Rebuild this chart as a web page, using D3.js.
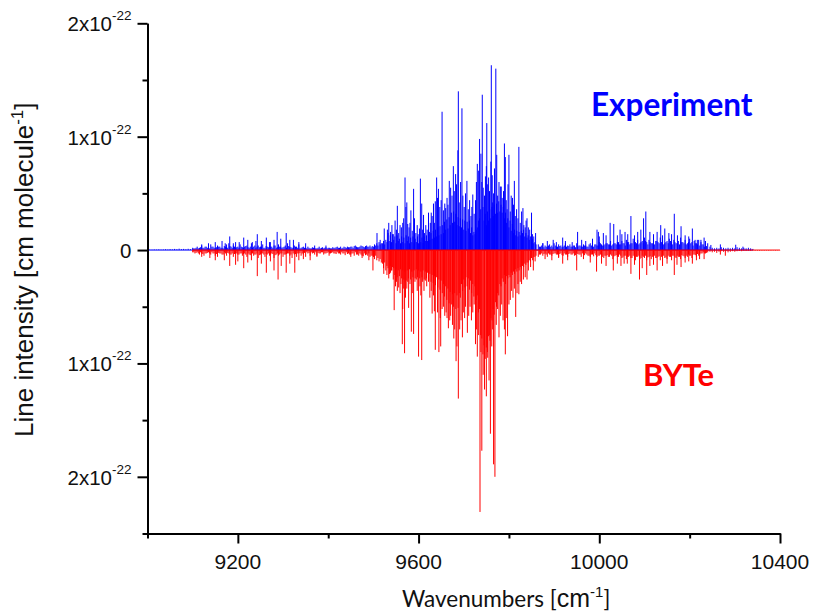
<!DOCTYPE html>
<html>
<head>
<meta charset="utf-8">
<script src="https://cdnjs.cloudflare.com/ajax/libs/d3/7.8.5/d3.min.js"></script>
<style>
  body { margin: 0; background: #fff; }
  svg { display: block; }
  text { font-family: "Liberation Sans", Arial, sans-serif; fill: #111; }
</style>
</head>
<body>
<svg width="813" height="615"></svg>
<script>
// all intensities are in units of 1e-24 cm/molecule

// tick labels
const xMajor = [9200, 9600, 10000, 10400];
const xMinor = [9000, 9400, 9800, 10200];
const yMajor = [200, 100, 0, -100, -200];
const yMinor = [150, 50, -50, -150, -250];

// experiment: dense part of the spectrum, left wing / centre / right wing
const expLeft = [0.3,0.4,0.3,0.5,0.4,0.6,0.4,0.5,0.7,0.5,0.8,0.6,1,0.7,1.2,0.8,1,0.7,1.1,0.8,
  2,1.5,3,2,4,2,3,2.5,5,3,2,4,3,2,3.5,2.5,6,3,4,2,3,5,2.5,3,4,2,6,3,2,4,
  3,5,2,3,7,3,4,2,5,3,2.5,4,6,3,2,4,3,5,2,3,2,3,1.5,2.5,2,1.5,3,2,1.5,2.5,
  2,1.5,2.5,2,3,2,1.5,3,2,2.5,3,2,4,2.5,3,3.5,2.5,4,3,2.5];
const expLeftFill = [1.5,2,1.5,2.5,2,3,2,1.5,3,2,2.5,3,2,1.5,3,2,3.5,2,3,2.5,2,3,2,3.5,2.5,3,2,4,3,2.5,
  3,2,3.5,2.5,3,2,4,2.5,3,2,3,2,3.5,2.5,2,3,2,1.5,2.5,2,1.5,2,1.5,2,1.5,2,1.5,2.5,2,1.5,
  2,1.5,2,2.5,2,3,2,2.5,3,2.5,3,3.5,3,2.5,4,3,3.5,3,4,3.5];
const expCentre = [3,5,4,6,4,7,5,6,
  6,8,5,9,7,
  15,8,13,7,14,
  9,12,6,13,8,10,
  6,12,7,11,6,13,
  8,12,6,11,7,12,
  6,10,7,12,6,9,
  7,11,6,12,8,13,
  8,14,9,15,10,17,
  11,18,12,20,13,21,
  14,22,15,25,18,27,
  19,29,22,33,24,34,
  25,32,22,29,21,28,
  20,27,18,26,17,25,
  19,26,15,20,13,16,
  14,18,20,26,28,36,
  60,38,26,32,22,34,
  26,36,28,38,30,40,
  32,41,33,43,34,40,
  33,38,28,33,24,28,
  20,26,17,23,15,18,
  13,17,12,16,13,17,
  15,18,12,15,11,13,
  9,12,7,10,6,7,
  5];
const expRight = [5,3,6,4,3,5,4,6,3,5,4,3,6,4,5,3,4,6,4,3,
  5,4,3,6,4,5,4,7,5,4,6,5,8,5,6,7,5,8,6,9,
  7,6,10,7,9,6,8,11,7,9,6,10,8,7,11,9,6,8,10,7,
  9,6,8,11,7,9,6,10,7,8,6,9,7,5,8,6,3,2,
  1.5,2,1.5,2.5,2,1.5,2,1.5,2,1.5,2.5,2,1.5,2,1.5,2,1.5,1];
const expRightFill = [3,4,2.5,3,4,3,2.5,4,3,3.5,2.5,4,3,3.5,3,4,2.5,3,4,3,
  4,3,5,4,3,5,4,6,4,5,6,5,4,6,5,7,5,6,4,7,5,6,8,6,5,7,6,8,5,7,
  6,5,8,6,7,5,7,6,8,5,7,6,5,7,6,5,7,6,4,6,5,4,5,3,3.5];
// experiment: lines that stand out of the dense part
const expPeakNu = [9182,9195,9213,9243,9263,9280,9287,9307,9323,9240,9175,
  9508,9515,9524,9553,9565,9570,9576,9583,9589,9604,9607,9611,9622,9628,9633,9637,9640,9644,9652,9660,
  9668,9674,9677,9682,9687,9688,9696,9707,9720,9730,9735,9741,9750,9751,9755,9760,9761,9764,9771,9773,9775,
  9781,9783,9790,9792,9800,9808,9812,9822,9831,9840,9850,9859,
  9898,9919,9952,9961,9995,9998,10009,10024,10032,10046,10057,10070,10098,10103,10128,10136,10145,10154,
  10166,10181,10206,10217,10232,10247,10268,10302,10318];
const expPeakI = [12,7,11,14,11,9,16,15,9,8,5,
  15,9,19,39,24,64,23,35,54,63,41,31,33,33,41,43,64,54,122,37,
  61,48,74,67,88,140,125,61,49,76,98,137,74,112,64,78,163,42,160,84,48,
  56,56,94,82,84,46,61,91,37,28,33,15,
  9,11,16,9,18,16,15,24,23,18,16,30,28,34,16,22,19,15,
  32,21,19,9,11,4.5,5,4.7,3];
// experiment: the many middling lines
const expMidNu = [9531,9534,9538,9541,9544,9548,9551,9556,9559,9562,9567,9572,9574,9579,9581,9586,9591,9594,9597,9599,
  9602,9609,9613,9616,9619,9624,9626,9630,9635,9642,9647,9650,9655,9658,9663,9665,9671,9679,9684,9690,
  9693,9698,9701,9704,9710,9713,9716,9718,9723,9726,9728,9733,9738,9743,9746,9748,9753,9757,9763,9766,
  9768,9778,9785,9788,9794,9796,9798,9803,9805,9810,9814,9817,9820,9825,9828,9833,9836,9838,9843,9846,9852,9855,
  9875,9885,9905,9925,9940,9970,9985,10000,10015,10040,10050,10063,10078,10085,10092,10112,10120,10140,10160,10173,10190,10198,10212,10225,
  9120,9135,9150,9165,9172,9190,9203,9222,9232,9252,9272,9295,9315,9335,9350,9370,9395];
const expMidI = [18,24,16,22,14,26,18,15,22,20,28,38,42,20,24,17,28,15,22,14,
  19,18,15,22,18,16,24,30,24,46,38,44,35,41,46,40,55,52,58,42,
  60,48,38,50,36,44,30,38,32,44,60,70,85,55,48,65,58,52,66,50,
  72,60,46,52,44,36,58,34,48,40,30,36,28,24,34,22,20,26,20,18,14,12,
  6,8,7,8,7,8,10,12,13,13,14,14,13,16,18,16,14,13,14,13,13,12,9,9,
  5,6,7,8,6,6,7,9,7,8,7,10,9,7,6,4,4];

// BYTe: same split
const bytLeft = [2,3,2,4,3,5,3,2,4,3,5,6,3,4,2,5,3,4,6,3,4,3,5,3,6,4,3,5,4,7,4,3,6,4,5,3,7,4,5,3,
  6,4,3,5,7,4,6,3,5,4,6,3,5,3,4,6,3,2,4,3,2,3,2,3,2,3,2,3,2,3,4,3,2,4,3,5,3,4,3,5,6];
const bytLeftFill = [2,2.5,3,2,3.5,3,2.5,3,2,3,3.5,2.5,3,4,3,2.5,4,3,3.5,3,4,3,3.5,4,3,4.5,3,4,3,4.5,
  3,4,3.5,3,4,3.5,4.5,3,4,3,4,3.5,3,4,3,3.5,3,2.5,3,2.5,2,2.5,2,2.5,2,2.5,3,2,3,2.5,
  3,2.5,3,3.5,3,4,3,4.5,3.5,4,3,5,4,5,4,5.5,4.5,5,6,5];
const bytCentre = [6,8,5,9,7,10,8,11,
  12,16,11,18,14,
  16,21,14,18,15,
  16,22,17,24,18,23,
  17,25,18,26,19,27,
  18,25,17,26,19,24,
  18,25,17,24,18,25,
  19,24,18,26,19,25,
  20,27,21,28,22,29,
  23,31,24,33,26,35,
  27,38,30,41,32,44,
  34,47,37,48,39,50,
  38,52,40,51,38,42,
  30,36,26,33,24,32,
  25,35,27,38,30,41,
  32,44,40,55,52,75,
  78,92,84,96,86,90,
  76,75,60,62,52,57,
  46,50,38,40,30,32,
  25,28,22,30,23,25,
  22,24,20,22,19,21,
  17,19,16,18,15,17,
  14,15,12,13,11,11,
  9,10,7,9,6,6,
  5];
const bytRight = [6,4,5,3,6,4,5,3,4,6,3,5,4,6,3,4,5,3,4,6,
  4,3,5,6,4,3,6,5,4,7,5,6,4,8,5,6,4,7,5,8,
  6,7,5,9,6,8,5,7,9,6,8,5,7,6,9,5,7,8,6,9,
  5,7,6,8,5,7,6,5,7,4,6,5,3,2,3,2,1.5,2,1.5,2.5,
  1.5,1,1.5,1,2,1.5,1,1.5,1,0.8,1,0.7,0.8,0.6,0.7,0.5,0.6,0.5,0.6,0.5,
  0.5,0.4,0.5,0.4,0.3,0.4,0.3,0.2];
const bytRightFill = [4,3,3.5,4,3,4,3.5,3,4,3.5,4.5,3,4,3.5,4,3,4.5,3.5,4,3,
  4.5,4,5,4,5.5,4.5,5,4,6,5,4.5,6,5,5.5,4.5,6,5,6.5,5,6,5,7,5.5,6,5,7,6,5,6.5,5.5,
  6,5,7,5.5,6,5,6.5,5,6,5,6.5,5,6,4.5,5.5,5,4,5,4,4.5,3.5,4,3,3,2.5];
const bytPeakNu = [9182,9195,9213,9243,9263,9280,9289,9307,9326,9360,
  9499,9523,9536,9546,9556,9564,9565,9569,9578,9584,9589,9600,9607,9630,9637,9645,9649,
  9666,9678,9683,9688,9697,9708,9726,9730,9736,9740,9746,9750,9756,9759,9766,9769,9778,
  9792,9797,9803,9815,9822,9840,9854,
  9919,9950,9994,10031,10055,10070,10089,10105,10128,10166,10181,10206,10232,10268,10279];
const bytPeakI = [14,13,16,23,20,18,26,20,20,9,
  18,21,21,53,33,83,52,91,51,72,74,94,97,56,88,90,85,
  69,78,98,131,77,73,83,94,231,177,123,129,115,162,189,200,77,
  92,76,44,59,39,26,18,
  12,18,19,18,12,21,26,22,18,22,15,12,8,4,5];
const bytMidNu = [9530,9534,9538,9541,9544,9549,9551,9553,9559,9561,9567,9571,9574,9576,9581,9586,9592,9595,9597,9603,
  9605,9609,9612,9615,9618,9622,9625,9628,9633,9635,9642,9648,9652,9655,9658,9661,9663,9669,9671,9675,
  9680,9685,9691,9694,9699,9702,9704,9711,9714,9717,9720,9723,9728,9733,9738,9743,9753,9758,9762,9764,
  9772,9775,9781,9784,9787,9790,9794,9800,9806,9809,9812,9818,9820,9825,9828,9832,9836,9843,9848,9858,
  9880,9895,9910,9930,9965,9980,10005,10015,10040,10048,10062,10078,10095,10112,10120,10140,10150,10172,10190,10198,10215,10222,
  9120,9138,9150,9170,9200,9222,9230,9252,9272,9296,9315,9335,9345,9375,9402,9450,9475,9490];
const bytMidI = [22,25,20,18,26,32,28,36,38,30,34,42,34,28,30,38,28,26,36,32,
  40,28,36,27,32,28,42,36,40,54,55,60,52,50,58,55,60,62,58,66,
  70,85,70,62,55,60,50,58,50,62,55,48,70,75,90,110,95,80,85,70,
  66,52,58,48,62,70,60,48,36,42,34,38,30,28,30,26,24,18,15,10,
  8,9,7,9,8,11,12,14,12,14,12,13,16,14,13,14,12,13,11,10,9,8,
  6,7,9,9,10,11,9,12,10,14,12,9,8,5,5,6,7,9];

const svg = d3.select("svg");

const x = d3.scaleLinear().domain([9000, 10400]).range([147.5, 780]);
const y = d3.scaleLinear().domain([200, -250]).range([23.3, 533.5]);

// wavenumbers of a dense list: they sit on an even grid
function dense(start, step, values) {
  return values.map((v, i) => [start + i * step, v]);
}

function pairs(nu, values) {
  return nu.map((n, i) => [n, values[i]]);
}

const expLines = [
  dense(9000, 5, expLeft), dense(9102.5, 5, expLeftFill), dense(9500, 2.5, expCentre),
  dense(9865, 5, expRight), dense(9867.5, 5, expRightFill),
  pairs(expMidNu, expMidI), pairs(expPeakNu, expPeakI)
].flat().sort((a, b) => a[0] - b[0]);

const bytLines = [
  dense(9100, 5, bytLeft), dense(9102.5, 5, bytLeftFill), dense(9500, 2.5, bytCentre),
  dense(9865, 5, bytRight), dense(9867.5, 5, bytRightFill),
  pairs(bytMidNu, bytMidI), pairs(bytPeakNu, bytPeakI)
].flat().sort((a, b) => a[0] - b[0]);

// one stick per line, plus the zero line the sticks stand on
function stickPath(lines, sign) {
  return lines.map(d =>
    "M" + x(d[0]) + "," + y(0) + "V" + y(sign * d[1])
  ).join("") + "M" + x(lines[0][0]) + "," + y(0) + "H" + x(lines[lines.length - 1][0]);
}

svg.append("path")
  .attr("d", stickPath(expLines, 1))
  .attr("fill", "none")
  .attr("stroke", "#0000ff")
  .attr("stroke-width", 1);

svg.append("path")
  .attr("d", stickPath(bytLines, -1))
  .attr("fill", "none")
  .attr("stroke", "#ff0000")
  .attr("stroke-width", 1);

// axes
function styleAxis(g) {
  g.selectAll("path").attr("stroke", "#000").attr("stroke-width", 2);
  g.selectAll("line").attr("stroke", "#000").attr("stroke-width", 2);
  g.selectAll("text").remove();
}

svg.append("g")
  .attr("transform", "translate(0,533.5)")
  .call(d3.axisBottom(x).tickValues(xMajor).tickSize(10).tickSizeOuter(0))
  .call(styleAxis);
svg.append("g")
  .attr("transform", "translate(0,533.5)")
  .call(d3.axisBottom(x).tickValues(xMinor).tickSize(5).tickSizeOuter(0))
  .call(styleAxis);
svg.append("g")
  .attr("transform", "translate(147.5,0)")
  .call(d3.axisLeft(y).tickValues(yMajor).tickSize(10).tickSizeOuter(0))
  .call(styleAxis);
svg.append("g")
  .attr("transform", "translate(147.5,0)")
  .call(d3.axisLeft(y).tickValues(yMinor).tickSize(5).tickSizeOuter(0))
  .call(styleAxis);

// tick labels
svg.selectAll(".xlabel")
  .data(xMajor)
  .enter().append("text")
    .attr("class", "xlabel")
    .attr("x", d => x(d))
    .attr("y", 569)
    .attr("text-anchor", "middle")
    .style("font-size", "21px")
    .text(d => d);

const yLabel = svg.selectAll(".ylabel")
  .data(yMajor)
  .enter().append("text")
    .attr("class", "ylabel")
    .attr("x", 131.5)
    .attr("y", d => y(d) + 8)
    .attr("text-anchor", "end")
    .style("font-size", "20.5px");

yLabel.append("tspan").text(d => d === 0 ? "0" : Math.abs(d) / 100 + "x10");
yLabel.filter(d => d !== 0).append("tspan")
  .attr("dy", -11)
  .style("font-size", "13.5px")
  .text("-22");

// axis titles
const yTitle = svg.append("text")
  .attr("transform", "translate(33,437) rotate(-90)")
  .style("font-size", "26px");
yTitle.append("tspan").text("Line intensity [cm molecule");
yTitle.append("tspan").attr("dy", -10).style("font-size", "17px").text("-1");
yTitle.append("tspan").attr("dy", 10).text("]");

const xTitle = svg.append("text")
  .attr("x", 402)
  .attr("y", 607)
  .style("font-family", "Lato, sans-serif")
  .style("font-size", "22.5px");
xTitle.append("tspan").text("Wavenumbers [");
xTitle.append("tspan").style("font-family", "Liberation Sans").style("font-size", "25px").text("cm");
xTitle.append("tspan").attr("dy", -10).style("font-family", "Liberation Sans").style("font-size", "15px").text("-1");
xTitle.append("tspan").attr("dy", 10).text("]");

// series names
svg.append("text")
  .attr("x", 591)
  .attr("y", 116)
  .style("font-family", "Lato, sans-serif")
  .style("font-weight", "bold")
  .style("font-size", "31.5px")
  .style("fill", "#0000ff")
  .text("Experiment");

svg.append("text")
  .attr("x", 643)
  .attr("y", 386)
  .style("font-family", "Lato, sans-serif")
  .style("font-weight", "bold")
  .style("font-size", "31px")
  .style("fill", "#ff0000")
  .text("BYTe");
</script>
</body>
</html>
